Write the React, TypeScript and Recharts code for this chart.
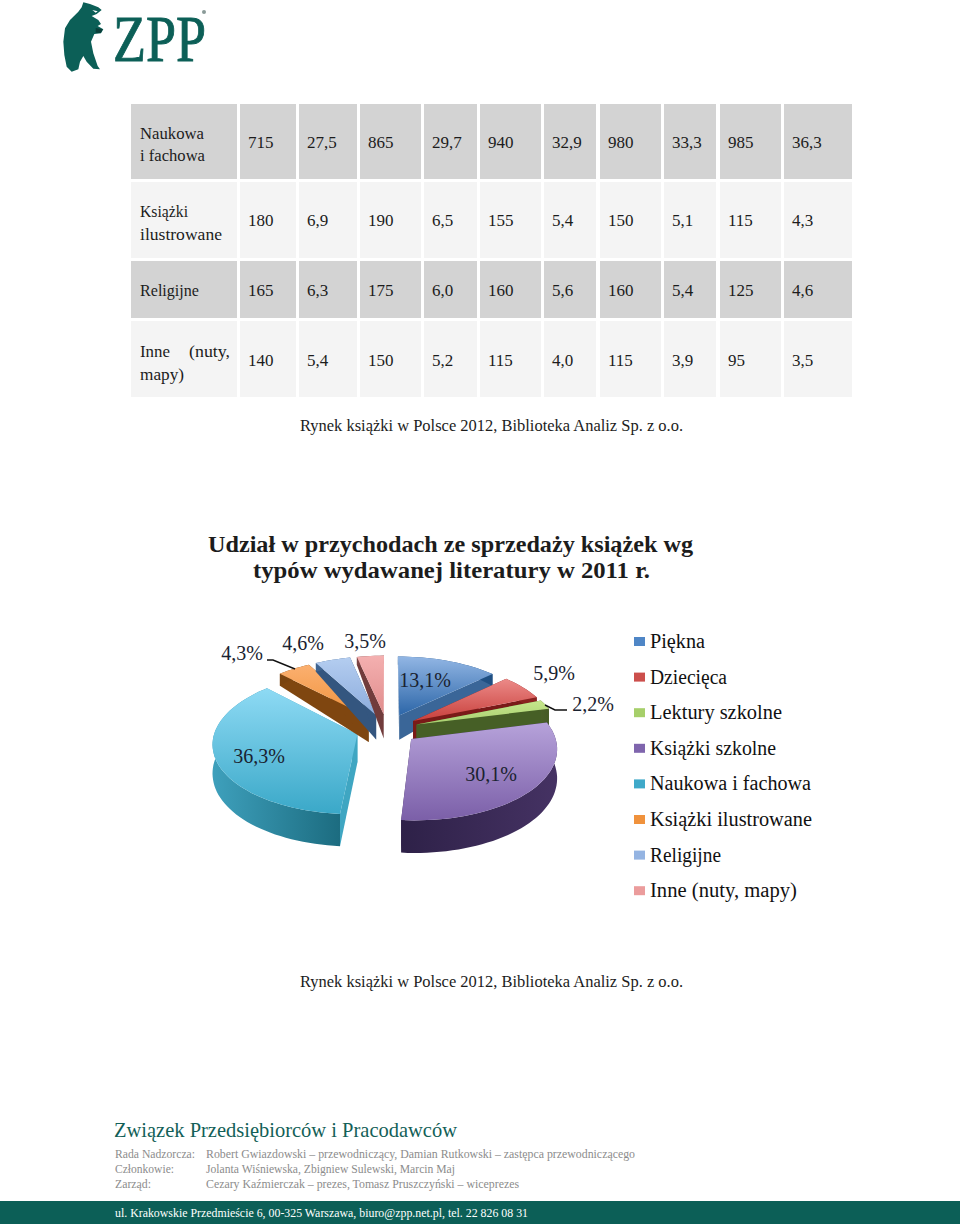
import React from "react";
import { PieChart, Pie, Legend } from "recharts";

// ---------- data ----------
const pieCategories = ["Piękna", "Dziecięca", "Lektury szkolne", "Książki szkolne", "Naukowa i fachowa", "Książki ilustrowane", "Religijne", "Inne (nuty, mapy)"];
const pieValues = [13.1, 5.9, 2.2, 30.1, 36.3, 4.3, 4.6, 3.5];
const pieLabels = ["13,1%", "5,9%", "2,2%", "30,1%", "36,3%", "4,3%", "4,6%", "3,5%"];

const rowNaukowa = ["715", "27,5", "865", "29,7", "940", "32,9", "980", "33,3", "985", "36,3"];
const rowIlustrowane = ["180", "6,9", "190", "6,5", "155", "5,4", "150", "5,1", "115", "4,3"];
const rowReligijne = ["165", "6,3", "175", "6,0", "160", "5,6", "160", "5,4", "125", "4,6"];
const rowInne = ["140", "5,4", "150", "5,2", "115", "4,0", "115", "3,9", "95", "3,5"];

const titleLines = ["Udział w przychodach ze sprzedaży książek wg", "typów wydawanej literatury w 2011 r."];
const sourceNote = "Rynek książki w Polsce 2012, Biblioteka Analiz Sp. z o.o.";

// ---------- layout & styles ----------
const FONT = "'Liberation Serif', serif";
const TEAL = "#0c5f57";
const colEdges = [[131, 237], [240, 296], [299, 357], [360, 421], [424, 477], [480, 541], [544, 596], [600, 661], [664, 716], [720, 781], [784, 852]];
const tableRows = [
  { y: 104, h: 75, fill: "#d3d3d3", base: 148, cells: rowNaukowa, head: [["Naukowa", 140, 139, 64], ["i fachowa", 140, 161, 65]] },
  { y: 182, h: 76, fill: "#f4f4f4", base: 226, cells: rowIlustrowane, head: [["Książki", 140, 217, 48], ["ilustrowane", 140, 240, 82]] },
  { y: 261, h: 57, fill: "#d3d3d3", base: 296, cells: rowReligijne, head: [["Religijne", 140, 296, 59]] },
  { y: 321, h: 76, fill: "#f4f4f4", base: 366, cells: rowInne, head: [["Inne", 140, 357, 30], ["(nuty,", 189, 357, 41], ["mapy)", 140, 380, 44]] },
];

const sliceStyles = [
  { top: ["#92b6e4", "#2c66a8"], wall: ["#2a5a90", "#1f4f82"], face: "#3a6698" },
  { top: ["#ec8a88", "#c8403c"], wall: ["#8a2220", "#8a2220"], face: "#7a1a18" },
  { top: ["#c6e68c", "#a8d070"], wall: ["#4a5f28", "#465a26"], face: "#465f26" },
  { top: ["#b6a2da", "#7b5fa8"], wall: ["#2e2148", "#453263"], face: "#3e2c58" },
  { top: ["#8edaf4", "#3aa8c8"], wall: ["#3ea0bc", "#1c6c80"], face: "#3fa6c2" },
  { top: ["#fbb070", "#f0923c"], wall: ["#7a4410", "#7a4410"], face: "#7f4610" },
  { top: ["#b4cdf0", "#8cacdc"], wall: ["#3f6490", "#3f6490"], face: "#34567f" },
  { top: ["#f4b0b0", "#e08c8c"], wall: ["#7a4444", "#7a4444"], face: "#713c3c" },
];
const legendSwatches = ["#4f86c6", "#cc4f4c", "#a6cf6a", "#7f65ad", "#3fa9c9", "#f0923c", "#94b4e2", "#eb9c9c"];
const labelOffsets = [[38, -48], [167, -55], [206, -24], [104, 46], [-128, 28], [-145, -75], [-84, -85], [-22, -87]];
const leaderLines: Record<number, number[][]> = {
  2: [[158, -24], [168, -19], [180, -19]],
  5: [[-120, -69], [-114, -69], [-92, -60]],
};

const CX = 197, CY = 109; // centre of the pie inside the chart
const RX = 142, RY = 69, PERSP = 0.12, EXPLODE = 0.22;

const project = (u: number, v: number) => {
  const w = 1 - PERSP * v;
  return [(RX * u) / w, (RY * v) / w];
};
const depthAt = (v: number) => Math.max(8, v < 0 ? 28 + 18 * v : 28 + 4 * v);
const toPath = (pts: number[][]) => "M" + pts.map((p) => `${p[0].toFixed(1)},${p[1].toFixed(1)}`).join("L") + "Z";

function Slice3D(props: any) {
  const { cx, cy, startAngle, endAngle, index } = props;
  const a0 = ((90 - startAngle) * Math.PI) / 180;
  const a1 = ((90 - endAngle) * Math.PI) / 180;
  const mid = (a0 + a1) / 2;
  const ex = EXPLODE * Math.sin(mid);
  const ey = -EXPLODE * Math.cos(mid);
  const world: number[][] = [];
  const steps = Math.max(4, Math.ceil(Math.abs(a1 - a0) / 0.04));
  for (let i = 0; i <= steps; i++) {
    const a = a0 + ((a1 - a0) * i) / steps;
    world.push([ex + Math.sin(a), ey - Math.cos(a)]);
  }
  const toTop = (w: number[]) => {
    const p = project(w[0], w[1]);
    return [cx + p[0], cy + p[1]];
  };
  const toBottom = (w: number[]) => {
    const p = toTop(w);
    return [p[0], p[1] + depthAt(w[1])];
  };
  const apex = [ex, ey];
  const topPts = [apex, ...world].map(toTop);
  const outer = [...world.map(toTop), ...[...world].reverse().map(toBottom)];
  const faceA = [toTop(apex), toTop(world[0]), toBottom(world[0]), toBottom(apex)];
  const faceB = [toTop(apex), toTop(world[world.length - 1]), toBottom(world[world.length - 1]), toBottom(apex)];
  const s = sliceStyles[index];
  return (
    <g>
      <defs>
        <linearGradient id={`top${index}`} x1="0" y1="0" x2="0" y2="1">
          <stop offset="0" stopColor={s.top[0]} />
          <stop offset="1" stopColor={s.top[1]} />
        </linearGradient>
        <linearGradient id={`wall${index}`} x1="0" y1="0" x2="1" y2="0">
          <stop offset="0" stopColor={s.wall[0]} />
          <stop offset="1" stopColor={s.wall[1]} />
        </linearGradient>
      </defs>
      <path d={toPath(faceA)} fill={s.face} />
      <path d={toPath(faceB)} fill={s.face} />
      <path d={toPath(outer)} fill={`url(#wall${index})`} />
      <path d={toPath(topPts)} fill={`url(#top${index})`} />
    </g>
  );
}

function SliceLabel(props: any) {
  const i = props.index;
  const off = labelOffsets[i];
  const leader = leaderLines[i];
  return (
    <g>
      {leader && <polyline points={leader.map((p) => `${CX + p[0]},${CY + p[1]}`).join(" ")} fill="none" stroke="#111" strokeWidth={1.4} />}
      <text x={CX + off[0]} y={CY + off[1] + 6} textAnchor="middle" fontFamily={FONT} fontSize={20} fill="#1a2230">
        {pieLabels[i]}
      </text>
    </g>
  );
}

const legendWidths = [55, 77, 132, 126, 161, 162, 71, 147];
function LegendContent() {
  return (
    <svg width={190} height={285} style={{ display: "block" }}>
      {pieCategories.map((name, i) => {
        const y = 22 + i * 35.6;
        return (
          <g key={name}>
            <rect x={1} y={y - 5} width={11} height={9} fill={legendSwatches[i]} />
            <text x={17} y={y + 6} fontFamily={FONT} fontSize={20} fill="#111" textLength={legendWidths[i]} lengthAdjust="spacingAndGlyphs">
              {name}
            </text>
          </g>
        );
      })}
    </svg>
  );
}

const chartData = pieCategories.map((name, i) => ({ name, value: pieValues[i] }));

function T({ x, y, w, size = 17, fill = "#1c1c1c", weight, children, stroke }: any) {
  return (
    <text x={x} y={y} fontFamily={FONT} fontSize={size} fill={fill} fontWeight={weight} stroke={stroke} strokeWidth={stroke ? 0.9 : undefined} textLength={w} lengthAdjust={w ? "spacingAndGlyphs" : undefined}>
      {children}
    </text>
  );
}

const bearOutline = [[85, 7], [105, 12], [130, 22], [140, 30], [125, 42], [110, 48], [130, 60], [138, 72], [128, 78], [145, 88], [138, 100], [118, 102], [108, 125], [115, 160], [128, 198], [135, 208], [115, 206], [95, 185], [85, 168], [75, 185], [70, 208], [50, 215], [35, 200], [28, 165], [25, 125], [30, 85], [45, 60], [70, 35], [80, 22]];
const bearEye = [[112, 30], [128, 34], [122, 38]];
const bearPaw = [[122, 84], [143, 88], [137, 99], [122, 98]];

export default function App() {
  return (
    <div style={{ position: "absolute", left: 0, top: 0, width: 960, height: 1228, background: "#fff", overflow: "hidden" }}>
      <svg width={960} height={1228} style={{ position: "absolute", left: 0, top: 0 }}>
        {/* logo */}
        <polygon points={bearOutline.map((p) => `${55 + p[0] / 3},${p[1] / 3}`).join(" ")} fill={TEAL} />
        <polygon points={bearEye.map((p) => `${55 + p[0] / 3},${p[1] / 3}`).join(" ")} fill="#ffffff" />
        <polygon points={bearPaw.map((p) => `${55 + p[0] / 3},${p[1] / 3}`).join(" ")} fill="#0a3f3a" />
        <T x={113} y={61} w={93} size={65} fill={TEAL} stroke={TEAL}>ZPP</T>
        <circle cx={204} cy={12} r={2} fill="#8a9a98" />

        {/* table */}
        {tableRows.map((row) => (
          <g key={row.y}>
            {colEdges.map((c) => (
              <rect key={c[0]} x={c[0]} y={row.y} width={c[1] - c[0]} height={row.h} fill={row.fill} />
            ))}
            {row.head.map((h: any) => (
              <T key={h[0]} x={h[1]} y={h[2]} w={h[3]}>{h[0]}</T>
            ))}
            {row.cells.map((v, i) => (
              <T key={i} x={colEdges[i + 1][0] + 8} y={row.base}>{v}</T>
            ))}
          </g>
        ))}
        <T x={300} y={431} w={383}>{sourceNote}</T>

        {/* title */}
        <T x={208} y={552} w={485} size={23} weight="bold">{titleLines[0]}</T>
        <T x={253} y={578} w={397} size={23} weight="bold">{titleLines[1]}</T>

        <T x={300} y={987} w={383}>{sourceNote}</T>

        {/* footer */}
        <T x={114} y={1137} w={343} size={21} fill="#135f58">Związek Przedsiębiorców i Pracodawców</T>
        <T x={115} y={1158} w={80} size={12} fill="#8c8c8c">Rada Nadzorcza:</T>
        <T x={115} y={1173} w={59} size={12} fill="#8c8c8c">Członkowie:</T>
        <T x={115} y={1188} w={36} size={12} fill="#8c8c8c">Zarząd:</T>
        <T x={206} y={1158} w={429} size={12} fill="#8c8c8c">Robert Gwiazdowski – przewodniczący, Damian Rutkowski – zastępca przewodniczącego</T>
        <T x={206} y={1173} w={249} size={12} fill="#8c8c8c">Jolanta Wiśniewska, Zbigniew Sulewski, Marcin Maj</T>
        <T x={206} y={1188} w={313} size={12} fill="#8c8c8c">Cezary Kaźmierczak – prezes, Tomasz Pruszczyński – wiceprezes</T>
        <rect x={0} y={1201} width={960} height={23} fill={TEAL} />
        <T x={115} y={1217} w={413} size={13} fill="#ffffff">ul. Krakowskie Przedmieście 6, 00-325 Warszawa, biuro@zpp.net.pl, tel. 22 826 08 31</T>
      </svg>

      <div style={{ position: "absolute", left: 190, top: 620 }}>
        <PieChart width={650} height={290} margin={{ top: 0, right: 0, bottom: 0, left: 0 }}>
          <Pie
            data={chartData}
            dataKey="value"
            nameKey="name"
            cx={CX}
            cy={CY}
            outerRadius={100}
            startAngle={90}
            endAngle={-270}
            paddingAngle={0}
            stroke="none"
            isAnimationActive={false}
            shape={Slice3D as any}
            label={SliceLabel as any}
            labelLine={false}
          />
          <Legend content={LegendContent as any} layout="vertical" wrapperStyle={{ position: "absolute", left: 443, top: 0, width: 190, height: 285 }} />
        </PieChart>
      </div>
    </div>
  );
}
